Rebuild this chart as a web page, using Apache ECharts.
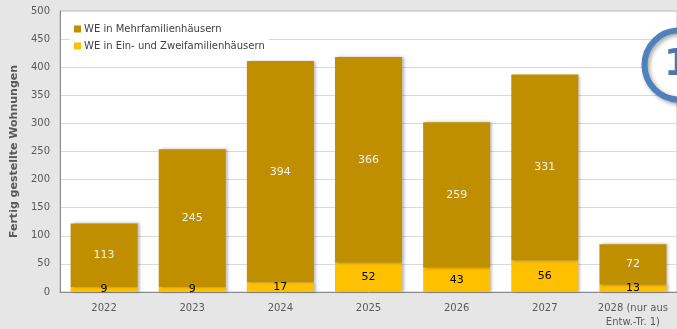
<!DOCTYPE html>
<html>
<head>
<meta charset="utf-8">
<script src="https://cdn.jsdelivr.net/npm/echarts@6/dist/echarts.min.js"></script>
<style>
  html, body { margin: 0; padding: 0; background: #e6e6e6; }
  #chart { width: 677px; height: 329px; }
</style>
</head>
<body>
<div id="chart"></div>
<script>
// Completed dwellings per year, split by building type
const years = ['2022', '2023', '2024', '2025', '2026', '2027', '2028 (nur aus\nEntw.-Tr. 1)'];
const einZweifamilien = [9, 9, 17, 52, 43, 56, 13];
const mehrfamilien = [113, 245, 394, 366, 259, 331, 72];
const yTicks = { min: 0, max: 500, interval: 50 };

const FONT = 'DejaVu Sans';
const chart = echarts.init(document.getElementById('chart'));

// soft shadow to the right of each column
const barShadow = {
  shadowColor: 'rgba(0,0,0,0.3)',
  shadowBlur: 3,
  shadowOffsetX: 2,
  shadowOffsetY: 0
};

chart.setOption({
  backgroundColor: '#e6e6e6',
  animation: false,
  grid: {
    left: 60, top: 11, right: -1, bottom: 37,
    show: true,
    backgroundColor: '#ffffff',
    borderColor: '#bfbfbf',
    borderWidth: 1
  },
  legend: {
    data: ['WE in Mehrfamilienhäusern', 'WE in Ein- und Zweifamilienhäusern'],
    orient: 'vertical',
    left: 70, top: 22,
    itemWidth: 7, itemHeight: 7, itemGap: 7,
    backgroundColor: '#ffffff',
    padding: [2, 4],
    textStyle: { fontFamily: FONT, fontSize: 10, color: '#404040', padding: [0, 0, 0, -2] },
    icon: 'rect'
  },
  xAxis: {
    type: 'category',
    data: years,
    axisTick: { show: false },
    axisLine: { lineStyle: { color: '#8c8c8c', width: 1 } },
    axisLabel: { interval: 0, fontFamily: FONT, fontSize: 10, color: '#595959', margin: 9, lineHeight: 14 }
  },
  yAxis: {
    type: 'value',
    min: yTicks.min, max: yTicks.max, interval: yTicks.interval,
    name: 'Fertig gestellte Wohnungen',
    nameLocation: 'middle',
    nameGap: 38,
    nameTextStyle: { fontFamily: FONT, fontSize: 11, fontWeight: 'bold', color: '#595959' },
    axisLine: { show: true, lineStyle: { color: '#8c8c8c' } },
    axisTick: { show: false },
    splitLine: { lineStyle: { color: '#d9d9d9' } },
    axisLabel: { fontFamily: FONT, fontSize: 10, color: '#595959', margin: 10 }
  },
  series: [
    {
      name: 'WE in Ein- und Zweifamilienhäusern',
      type: 'bar',
      stack: 'we',
      data: einZweifamilien,
      barWidth: 67,
      itemStyle: Object.assign({ color: '#ffc000' }, barShadow),
      label: {
        show: true, position: 'inside',
        fontFamily: FONT, fontSize: 11, color: '#000000'
      }
    },
    {
      name: 'WE in Mehrfamilienhäusern',
      type: 'bar',
      stack: 'we',
      data: mehrfamilien,
      barWidth: 67,
      itemStyle: Object.assign({ color: '#bf8f00' }, barShadow),
      label: {
        show: true, position: 'inside',
        fontFamily: FONT, fontSize: 11, color: '#f2f2f2'
      }
    }
  ],
  graphic: [
    {
      type: 'circle',
      shape: { cx: 679, cy: 65, r: 34.5 },
      style: {
        fill: '#ffffff',
        stroke: '#4f81bd',
        lineWidth: 6,
        shadowColor: 'rgba(0,0,0,0.35)',
        shadowBlur: 4,
        shadowOffsetX: 2,
        shadowOffsetY: 2
      },
      z: 100
    },
    {
      type: 'text',
      x: 664, y: 65,
      style: {
        text: '1',
        fontFamily: FONT,
        fontSize: 38,
        fontWeight: 'bold',
        fill: '#4a78b5',
        verticalAlign: 'middle'
      },
      z: 101
    }
  ]
});
</script>
</body>
</html>
